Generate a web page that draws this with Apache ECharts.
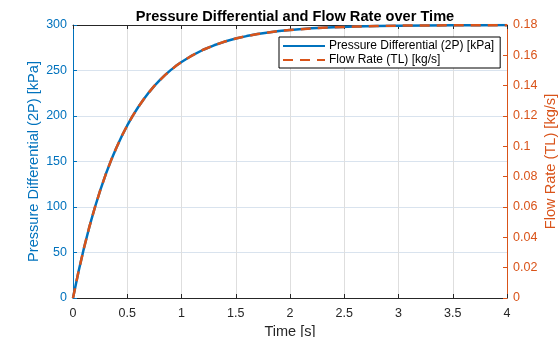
<!DOCTYPE html>
<html>
<head>
<meta charset="utf-8">
<script src="https://cdn.jsdelivr.net/npm/echarts@6/dist/echarts.min.js"></script>
<style>
  html, body { margin: 0; padding: 0; background: #fff; }
  #chart { width: 560px; height: 337px; }
</style>
</head>
<body>
<div id="chart"></div>
<script>
// Sample times [s]
const times = [0, 0.05, 0.1, 0.15, 0.2, 0.25, 0.3, 0.35, 0.4, 0.45, 0.5, 0.55, 0.6, 0.65, 0.7, 0.75,
  0.8, 0.85, 0.9, 0.95, 1.0, 1.1, 1.2, 1.3, 1.4, 1.5, 1.6, 1.7, 1.8, 1.9, 2.0, 2.2, 2.4, 2.6, 2.8,
  3.0, 3.25, 3.5, 3.75, 4.0];
// Pressure differential (2P) [kPa]
const pressure = [0, 28.5, 54.4, 77.8, 98.9, 118.0, 135.4, 151.0, 165.2, 178.0, 189.6, 200.1, 209.6,
  218.1, 226.0, 233.1, 239.4, 245.2, 250.4, 255.1, 259.4, 266.7, 272.8, 277.7, 281.8, 285.1, 287.8,
  290.0, 291.8, 293.3, 294.5, 296.3, 297.5, 298.3, 298.9, 299.3, 299.55, 299.7, 299.83, 299.9];
// Flow rate (TL) [kg/s]
const flow = [0, 0.0171, 0.0326, 0.0467, 0.0593, 0.0708, 0.0812, 0.0906, 0.0991, 0.1068, 0.1138,
  0.1201, 0.1258, 0.1309, 0.1356, 0.1399, 0.1436, 0.1471, 0.1502, 0.1531, 0.1556, 0.1600, 0.1637,
  0.1666, 0.1691, 0.1711, 0.1727, 0.1740, 0.1751, 0.1760, 0.1767, 0.1778, 0.1785, 0.1790, 0.1793,
  0.1796, 0.1797, 0.1798, 0.1799, 0.1799];

const xTicks = [0, 0.5, 1, 1.5, 2, 2.5, 3, 3.5, 4];
const leftTicks = [0, 50, 100, 150, 200, 250, 300];
const rightTicks = [0, 0.02, 0.04, 0.06, 0.08, 0.1, 0.12, 0.14, 0.16, 0.18];

const BLUE = '#0072BD';
const ORANGE = '#D95319';
const DARK = '#262626';
const FONT = 'Liberation Sans, Arial, sans-serif';

const pressureData = times.map((t, i) => [t, pressure[i]]);
const flowData = times.map((t, i) => [t, flow[i]]);

const chart = echarts.init(document.getElementById('chart'), null, { renderer: 'canvas' });

chart.setOption({
  animation: false,
  backgroundColor: '#ffffff',
  textStyle: { fontFamily: FONT },
  title: {
    text: 'Pressure Differential and Flow Rate over Time',
    left: 290, top: 4, textAlign: 'center',
    textStyle: { fontFamily: FONT, fontSize: 14.6, fontWeight: 'bold', color: '#000' }
  },
  legend: {
    orient: 'vertical',
    left: 279, top: 37,
    padding: [3, 6, 2, 3],
    itemGap: 2,
    itemWidth: 42, itemHeight: 12,
    backgroundColor: '#fff',
    borderColor: '#000', borderWidth: 1,
    itemStyle: { opacity: 0 },
    textStyle: { fontFamily: FONT, fontSize: 12, color: '#000', padding: [0, 0, 0, -1] },
    data: ['Pressure Differential (2P) [kPa]', 'Flow Rate (TL) [kg/s]']
  },
  grid: { left: 73, right: 53, top: 25, bottom: 39, containLabel: false, outerBoundsMode: 'none' },
  xAxis: [{
    type: 'value', min: xTicks[0], max: xTicks[xTicks.length - 1], interval: 0.5,
    name: 'Time [s]', nameLocation: 'middle', nameGap: 24,
    nameTextStyle: { fontFamily: FONT, fontSize: 14.5, color: DARK },
    axisLine: { show: true, onZero: false, lineStyle: { color: DARK, width: 1 } },
    axisTick: { show: true, inside: true, length: 4, lineStyle: { color: DARK } },
    axisLabel: { fontFamily: FONT, fontSize: 12.5, color: DARK, margin: 9 },
    splitLine: { show: true, lineStyle: { color: '#DEDEDE', width: 1 } }
  }, {
    type: 'value', position: 'top', min: xTicks[0], max: xTicks[xTicks.length - 1], interval: 0.5,
    axisLine: { show: true, onZero: false, lineStyle: { color: DARK, width: 1 } },
    axisTick: { show: true, inside: true, length: 4, lineStyle: { color: DARK } },
    axisLabel: { show: false },
    splitLine: { show: false }
  }],
  yAxis: [{
    type: 'value', position: 'left', min: leftTicks[0], max: leftTicks[leftTicks.length - 1], interval: 50,
    name: 'Pressure Differential (2P) [kPa]', nameLocation: 'middle', nameGap: 32, nameRotate: 90,
    nameMoveOverlap: false,
    nameTextStyle: { fontFamily: FONT, fontSize: 14.6, color: BLUE },
    axisLine: { show: true, onZero: false, lineStyle: { color: BLUE, width: 1 } },
    axisTick: { show: true, inside: true, length: 4, lineStyle: { color: BLUE } },
    axisLabel: { fontFamily: FONT, fontSize: 12.5, color: BLUE, margin: 6 },
    splitLine: { show: true, lineStyle: { color: '#D9E3EE', width: 1 } }
  }, {
    type: 'value', position: 'right', min: rightTicks[0], max: rightTicks[rightTicks.length - 1], interval: 0.02,
    name: 'Flow Rate (TL) [kg/s]', nameLocation: 'middle', nameGap: 36, nameRotate: 90,
    nameMoveOverlap: false,
    nameTextStyle: { fontFamily: FONT, fontSize: 14.6, color: ORANGE },
    axisLine: { show: true, onZero: false, lineStyle: { color: ORANGE, width: 1 } },
    axisTick: { show: true, inside: true, length: 4, lineStyle: { color: ORANGE } },
    axisLabel: { fontFamily: FONT, fontSize: 12.5, color: ORANGE, margin: 6,
      formatter: v => String(+v.toFixed(2)) },
    splitLine: { show: false }
  }],
  series: [{
    name: 'Pressure Differential (2P) [kPa]',
    type: 'line', xAxisIndex: 0, yAxisIndex: 0,
    data: pressureData, smooth: false,
    symbol: 'none', z: 2,
    lineStyle: { color: BLUE, width: 2.5 },
    itemStyle: { color: BLUE }
  }, {
    name: 'Flow Rate (TL) [kg/s]',
    type: 'line', xAxisIndex: 0, yAxisIndex: 1,
    data: flowData, smooth: false,
    symbol: 'none', z: 3,
    lineStyle: { color: ORANGE, width: 2.5, type: [10, 7] },
    itemStyle: { color: ORANGE }
  }]
});
</script>
</body>
</html>
